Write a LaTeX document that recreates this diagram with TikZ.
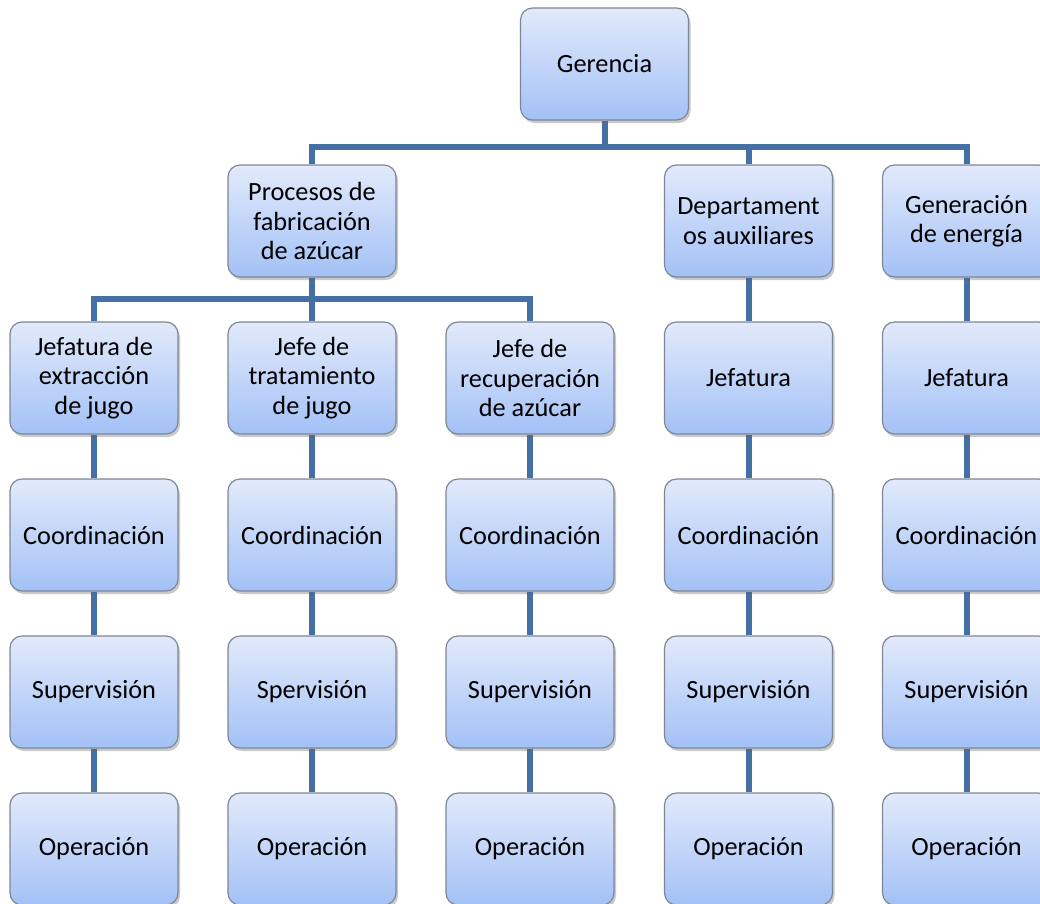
\documentclass[tikz,border=0pt]{standalone}
\usepackage{fontspec}
\setmainfont{Carlito}
\usetikzlibrary{backgrounds,shadows}
\definecolor{linkblue}{HTML}{4470A6}
\definecolor{boxtop}{HTML}{E2EAFB}
\definecolor{boxbot}{HTML}{A3C1F6}
\definecolor{boxedge}{HTML}{7F8796}
\tikzset{
  orgbox/.style={draw=boxedge, line width=1.2pt, rounded corners=12pt,
    top color=boxtop, bottom color=boxbot,
    minimum width=168pt, minimum height=112pt, inner sep=2pt,
    align=center, font=\fontsize{26.3}{29.5}\selectfont,
    drop shadow={shadow xshift=2pt, shadow yshift=-3pt, opacity=0.35, fill=black!60}},
  link/.style={draw=linkblue, line width=6pt}
}
\begin{document}
\begin{tikzpicture}[x=1pt,y=-1pt]
\clip (0,0) rectangle (1040,903);
% top level
\node[orgbox] (ger) at (604.5,64) {Gerencia};
% second level
\node[orgbox] (proc) at (312,221) {Procesos de\\fabricación\\de azúcar};
\node[orgbox] (dep)  at (748.5,221) {Departament\\os auxiliares};
\node[orgbox] (gen)  at (966.5,221) {Generación\\de energía};
% third level
\node[orgbox] (j1) at (94,378) {Jefatura de\\extracción\\de jugo};
\node[orgbox] (j2) at (312,378) {Jefe de\\tratamiento\\de jugo};
\node[orgbox] (j3) at (530,378) {Jefe de\\recuperación\\de azúcar};
\node[orgbox] (j4) at (748.5,378) {Jefatura};
\node[orgbox] (j5) at (966.5,378) {Jefatura};
% coordination
\node[orgbox] (c1) at (94,535) {Coordinación};
\node[orgbox] (c2) at (312,535) {Coordinación};
\node[orgbox] (c3) at (530,535) {Coordinación};
\node[orgbox] (c4) at (748.5,535) {Coordinación};
\node[orgbox] (c5) at (966.5,535) {Coordinación};
% supervision
\node[orgbox] (s1) at (94,692) {Supervisión};
\node[orgbox] (s2) at (312,692) {Spervisión};
\node[orgbox] (s3) at (530,692) {Supervisión};
\node[orgbox] (s4) at (748.5,692) {Supervisión};
\node[orgbox] (s5) at (966.5,692) {Supervisión};
% operation
\node[orgbox] (o1) at (94,849) {Operación};
\node[orgbox] (o2) at (312,849) {Operación};
\node[orgbox] (o3) at (530,849) {Operación};
\node[orgbox] (o4) at (748.5,849) {Operación};
\node[orgbox] (o5) at (966.5,849) {Operación};
% bus points
\coordinate (busA) at (604.5,147);
\coordinate (busB) at (312,299);
\begin{scope}[on background layer]
  \fill[white] (0,0) rectangle (1040,903);
  \draw[link] (ger.south) -- (busA);
  \draw[link] (busA) -| (proc.north);
  \draw[link] (busA) -| (dep.north);
  \draw[link] (busA) -| (gen.north);
  \draw[link] (proc.south) -- (busB);
  \draw[link] (busB) -| (j1.north);
  \draw[link] (busB) -- (j2.north);
  \draw[link] (busB) -| (j3.north);
  \draw[link] (dep) -- (j4);
  \draw[link] (gen) -- (j5);
  \foreach \k in {1,...,5}{
    \draw[link] (j\k) -- (c\k);
    \draw[link] (c\k) -- (s\k);
    \draw[link] (s\k) -- (o\k);
  }
\end{scope}
\end{tikzpicture}
\end{document}
